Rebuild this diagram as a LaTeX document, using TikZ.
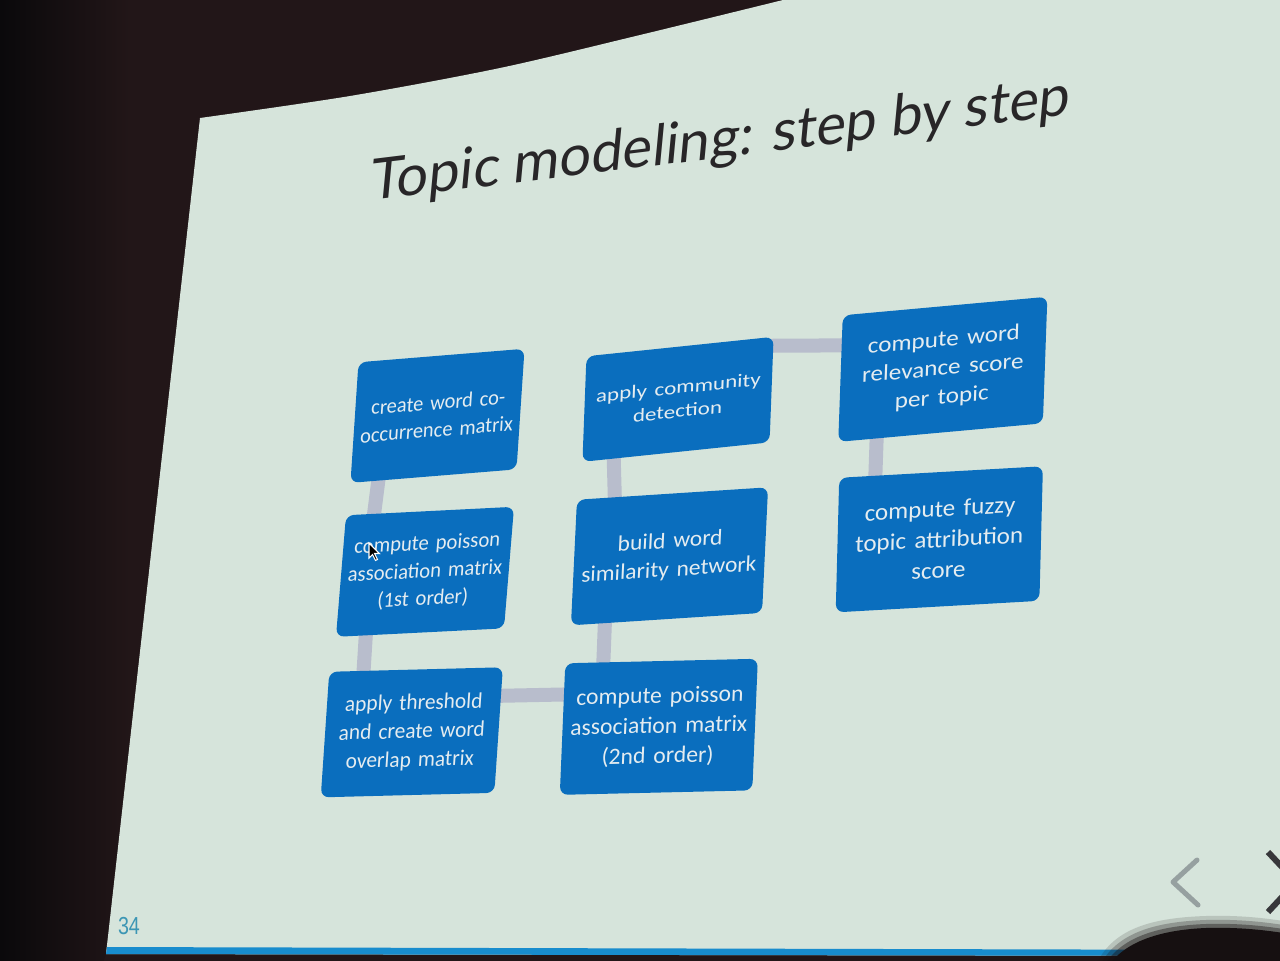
\documentclass[tikz,border=0pt]{standalone}
\usepackage{fontspec}
\usetikzlibrary{calc}
\newfontfamily\boxfont{Carlito}
\newfontfamily\titlefont{Lato}
\newfontfamily\numfont{Liberation Sans}
\definecolor{roomdark}{RGB}{34,22,24}
\definecolor{roomblack}{RGB}{8,8,10}
\definecolor{slidebg}{RGB}{214,228,219}
\definecolor{boxblue}{RGB}{10,110,190}
\definecolor{boxtext}{RGB}{228,236,240}
\definecolor{linkgray}{RGB}{184,189,204}
\definecolor{titleink}{RGB}{40,38,40}
\definecolor{stripe}{RGB}{24,140,205}
\definecolor{pagenum}{RGB}{60,150,180}
\definecolor{navgray}{RGB}{150,160,160}
\definecolor{navdark}{RGB}{55,55,58}
\definecolor{headdark}{RGB}{22,16,17}
\pgfdeclarelayer{back}
\pgfdeclarelayer{links}
\pgfsetlayers{back,links,main}

\begin{document}
\begin{tikzpicture}[x=0.01cm,y=-0.01cm,
  stepbox/.style={rectangle, rounded corners=0.08cm, fill=boxblue,
    minimum width=1.8cm, minimum height=1.25cm, inner sep=0pt,
    text width=1.7cm, align=center, text=boxtext,
    font=\boxfont\fontsize{6.3pt}{8.1pt}\selectfont},
  link/.style={draw=linkgray, line width=0.14cm, shorten <=-3pt, shorten >=-3pt}]

\useasboundingbox (0,0) rectangle (1280,960);

% room and projected slide
\begin{pgfonlayer}{back}
  \fill[roomdark] (-10,-10) rectangle (1290,970);
  \shade[left color=roomblack, right color=roomdark] (-10,-10) rectangle (130,970);
  \fill[slidebg] plot[smooth, tension=0.5] coordinates {(200,118) (350,96) (500,68) (640,35) (783,0)}
    -- (1290,-10) -- (1290,956) -- (106,954) -- cycle;
  \fill[stripe] (107,947) -- (1290,950) -- (1290,956) -- (106,954) -- cycle;
  \fill[roomdark] (106,955) -- (1290,957) -- (1290,970) -- (100,970) -- cycle;
\end{pgfonlayer}

% title
\node[font=\titlefont\fontsize{16pt}{19pt}\selectfont, text=titleink,
  rotate=7, xslant=0.22, anchor=base] (title) at (719,158) {Topic modeling: step by step};

% process steps
\node[stepbox, cm={0.922,0.075,0.064,0.964,(0,0)}] (b1) at (437.5,415.8) {create word co-\\occurrence matrix};
\node[stepbox, cm={0.933,0.047,0.080,0.972,(0,0)}] (b4) at (425,571.8) {compute poisson\\association matrix\\(1st order)};
\node[stepbox, cm={0.964,0.025,0.068,1.004,(0,0)}] (b7) at (411.8,732.3) {apply threshold\\and create word\\overlap matrix};
\node[stepbox, cm={1.069,0.025,0.044,1.052,(0,0)}] (b8) at (658.8,726.8) {compute poisson\\association matrix\\(2nd order)};
\node[stepbox, cm={1.061,0.069,0.048,1.004,(0,0)}] (b5) at (669.5,556.3) {build word\\similarity network};
\node[stepbox, cm={1.039,0.108,0.032,0.844,(0,0)}] (b2) at (678,399.3) {apply community\\detection};
\node[stepbox, cm={1.136,0.103,0.036,1.012,(0,0)}] (b3) at (942.8,369.3) {compute word\\relevance score\\per topic};
\node[stepbox, cm={1.131,0.064,0.028,1.076,(0,0)}] (b6) at (939.3,539.3) {compute fuzzy\\topic attribution\\score};

% connectors between steps
\begin{pgfonlayer}{links}
  \draw[link] ($(b1.south west)!0.17!(b1.south east)$) -- ($(b4.north west)!0.17!(b4.north east)$);
  \draw[link] ($(b4.south west)!0.18!(b4.south east)$) -- ($(b7.north west)!0.2!(b7.north east)$);
  \draw[link] ($(b7.north east)!0.23!(b7.south east)$) -- ($(b8.north west)!0.24!(b8.south west)$);
  \draw[link] ($(b8.north west)!0.2!(b8.north east)$) -- ($(b5.south west)!0.18!(b5.south east)$);
  \draw[link] ($(b5.north west)!0.2!(b5.north east)$) -- ($(b2.south west)!0.17!(b2.south east)$);
  \draw[link] ($(b2.north east)!0.09!(b2.south east)$) -- ($(b3.north west)!0.24!(b3.south west)$);
  \draw[link] ($(b3.south west)!0.19!(b3.south east)$) -- ($(b6.north west)!0.18!(b6.north east)$);
\end{pgfonlayer}

% mouse pointer
\fill[black, draw=white, line width=0.3pt] (369,543) -- ++(0,15) -- ++(3.5,-3.5) -- ++(3,6)
  -- ++(2,-1) -- ++(-3,-6) -- ++(5,0) -- cycle;

% slide number and navigation arrows
\node[font=\numfont\fontsize{7pt}{8pt}\selectfont, text=pagenum, xscale=0.8] (pgno) at (129,926) {34};
\draw[navgray, line width=0.05cm, line cap=round, line join=round] (1197,860) -- (1173,882) -- (1198,905);
\draw[navdark, line width=0.06cm] (1268,852) -- (1296,882) -- (1268,912);

% head in the audience, with a soft edge
\foreach \d/\op in {12/0.15, 8/0.25, 4/0.4} {
  \fill[headdark, opacity=\op] (1105-\d,972) .. controls (1120-\d,942-\d) and (1160-\d,930-\d) .. (1205,928-\d)
    .. controls (1240,927-\d) and (1265,930-\d) .. (1290,934-\d) -- (1290,972) -- cycle;
}
\fill[headdark] (1105,972) .. controls (1120,942) and (1160,930) .. (1205,928)
  .. controls (1240,927) and (1265,930) .. (1290,934) -- (1290,972) -- cycle;
\end{tikzpicture}
\end{document}
